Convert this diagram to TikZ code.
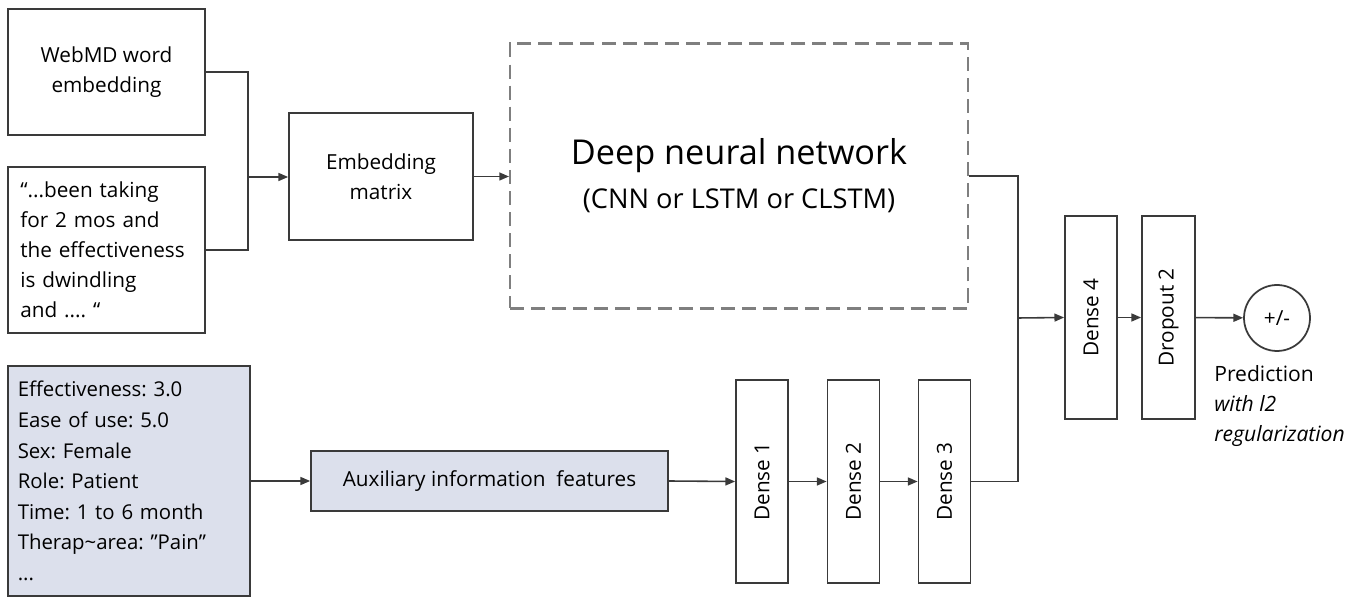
\documentclass[tikz,border=0pt]{standalone}
\usepackage{fontspec}
\setmainfont{Open Sans}
\frenchspacing
\definecolor{boxline}{HTML}{3A3A3A}
\definecolor{auxfill}{HTML}{DCE0EC}
\definecolor{dashgray}{HTML}{7F7F7F}
\usetikzlibrary{arrows.meta, positioning}

\begin{document}
\begin{tikzpicture}[x=0.02cm, y=-0.02cm,
        blk/.style={draw=boxline, line width=1pt, inner sep=0pt,
                    font=\fontsize{11.8}{17}\selectfont},
        dense/.style={blk, minimum width=1.04cm, minimum height=4.06cm},
        wire/.style={draw=boxline, line width=0.9pt},
        flow/.style={wire, -{Triangle[length=5.5pt, width=4.5pt]}}
      ]
        \useasboundingbox (0,0) rectangle (1370,597);

        % text inputs
        \node[blk, minimum width=3.94cm, minimum height=2.52cm, align=center] (web) at (106.5,72) {WebMD word\\embedding};
        \node[blk, minimum width=3.94cm, minimum height=3.32cm, align=left, text width=3.45cm] (quote) at (106.5,250)
          {“...been taking\\for 2 mos and\\the effectiveness\\is dwindling\\and .... “};
        \node[blk, minimum width=3.68cm, minimum height=2.54cm, align=center] (emb) at (381,176.5) {Embedding\\matrix};
        \node[draw=dashgray, line width=1.2pt, dash pattern=on 8pt off 4pt, minimum width=9.16cm, minimum height=5.3cm,
              align=center, font=\fontsize{19.5}{25}\selectfont] (dnn) at (739,176)
          {Deep neural network\\{\fontsize{15.5}{25}\selectfont (CNN or LSTM or CLSTM)}};

        % auxiliary inputs
        \node[blk, fill=auxfill, minimum width=4.84cm, minimum height=4.6cm, align=left, text width=4.45cm,
              font=\fontsize{11.6}{17.4}\selectfont] (feat) at (129,481)
          {Effectiveness: 3.0\\Ease of use: 5.0\\Sex: Female\\Role: Patient\\Time: 1 to 6 month\\Therap\textasciitilde area: ”Pain”\\...};
        \node[blk, fill=auxfill, minimum width=7.14cm, minimum height=1.2cm] (aux) at (489.5,481) {Auxiliary information~~features};

        % dense layers
        \node[dense] (d1) at (762,481.5) {\rotatebox{90}{Dense 1}};
        \node[dense] (d2) at (853.5,481.5) {\rotatebox{90}{Dense 2}};
        \node[dense] (d3) at (944.5,481.5) {\rotatebox{90}{Dense 3}};
        \node[dense] (d4) at (1091,317.5) {\rotatebox{90}{Dense 4}};
        \node[dense, minimum width=1.06cm] (dp) at (1168.5,317.5) {\rotatebox{90}{Dropout 2}};
        \node[blk, circle, minimum size=1.32cm] (out) at (1277,318) {+/-};
        \node[anchor=north west, align=left, inner sep=0pt, font=\fontsize{12}{17}\selectfont] (pred) at (1214,365)
          {Prediction\\\textit{with l2}\\\textit{regularization}};

        \coordinate (j1) at (248,177);
        \coordinate (j2) at (1018,318);

        \draw[wire] (web.east) -| (j1) |- (quote.east);
        \draw[flow] (j1) -- (j1 -| emb.west);
        \draw[flow] (emb.east) -- (emb.east -| dnn.west);
        \draw[wire] (dnn.east) -| (j2) |- (d3.east);
        \draw[flow] (j2) -- (d4.west);
        \draw[flow] (feat.east) -- (aux.west);
        \draw[flow] (aux.east) -- (d1.west);
        \draw[flow] (d1) -- (d2);
        \draw[flow] (d2) -- (d3);
        \draw[flow] (d4) -- (dp);
        \draw[flow] (dp) -- (out);
      \end{tikzpicture}
\end{document}
